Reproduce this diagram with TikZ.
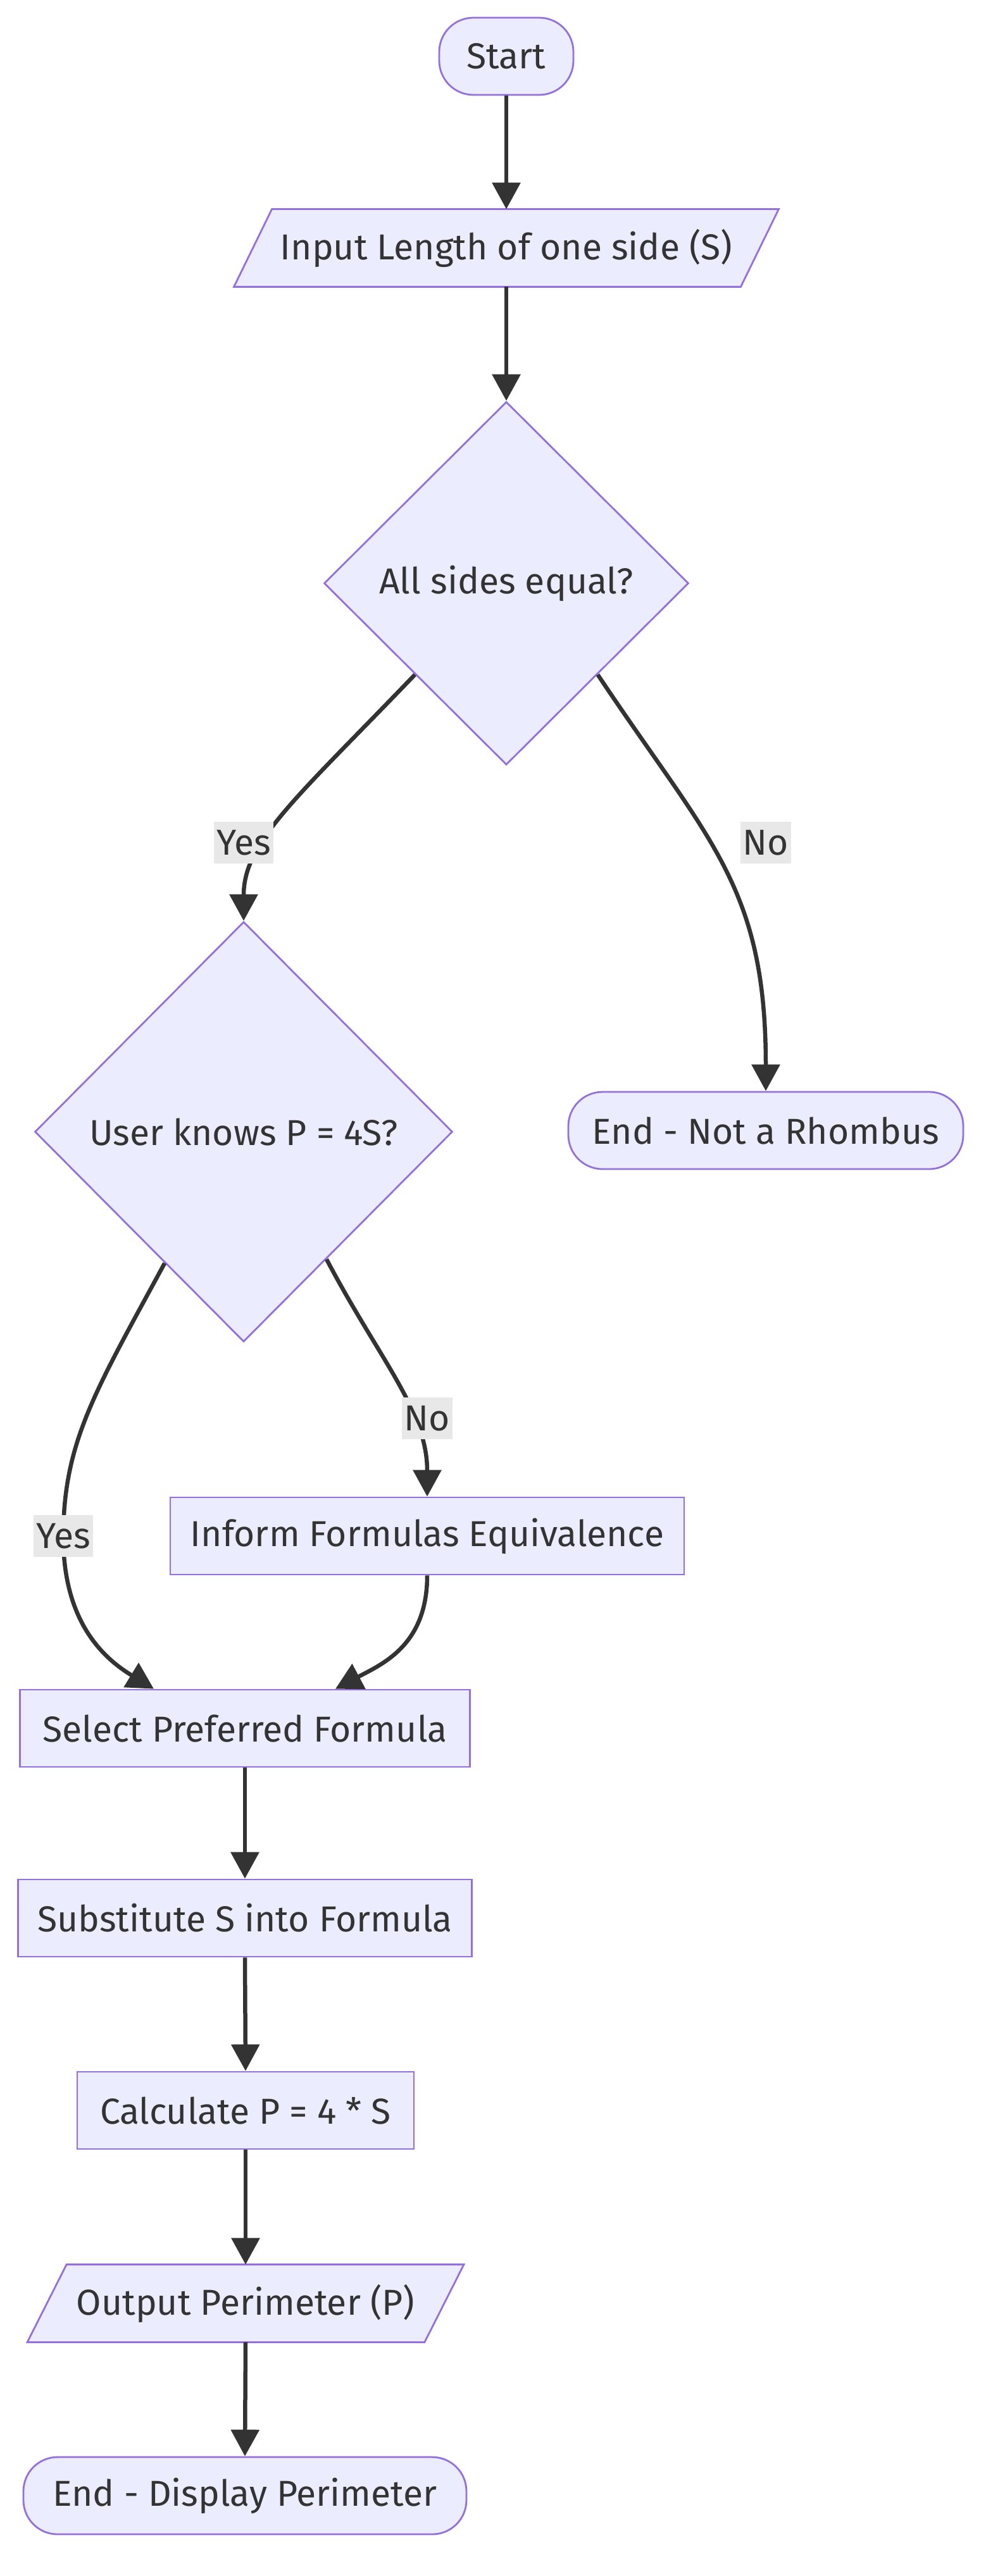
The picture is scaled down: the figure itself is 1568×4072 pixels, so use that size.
\documentclass[tikz,border=0pt]{standalone}
\usepackage{fontspec}
\setmainfont{Fira Sans}
\usetikzlibrary{shapes.geometric,arrows.meta,calc,backgrounds}
\definecolor{nfill}{HTML}{ECECFF}
\definecolor{nline}{HTML}{9370DB}
\definecolor{ink}{HTML}{333333}
\definecolor{lblbg}{HTML}{E8E8E8}
\begin{document}
\begin{tikzpicture}[x=0.5pt,y=-0.5pt,
  font=\fontsize{28.5}{34}\selectfont, text=ink,
  box/.style={draw=nline, fill=nfill, line width=1.4pt, inner sep=0pt, minimum height=61pt, align=center},
  term/.style={box, rounded corners=27pt},
  dec/.style={box, diamond, aspect=1},
  io/.style={inner sep=0pt, minimum height=61pt, align=center},
  iobox/.style={draw=nline, fill=nfill, line width=1.4pt},
  flow/.style={draw=ink, line width=3.25pt, -{Triangle[length=21pt,width=22pt]}},
  lbl/.style={fill=lblbg, inner xsep=2pt, inner ysep=0pt, minimum height=33pt}]
\useasboundingbox (0,0) rectangle (1568,4072);

\node[term, minimum width=106pt] (start) at (800,89) {Start};
\node[io, minimum width=400pt] (input) at (800,392) {Input Length of one side (S)};
\node[dec, minimum width=288pt, minimum height=287pt] (d1) at (800,922) {All sides equal?};
\node[dec, minimum width=330pt, minimum height=332pt] (d2) at (385,1789) {User knows P = 4S?};
\node[term, minimum width=312pt] (endnot) at (1210,1787) {End - Not a Rhombus};
\node[box, minimum width=406pt] (inform) at (675,2428) {Inform Formulas Equivalence};
\node[box, minimum width=355.5pt] (select) at (387,2732) {Select Preferred Formula};
\node[box, minimum width=358.5pt] (subst) at (387,3032) {Substitute S into Formula};
\node[box, minimum width=266pt] (calc) at (388,3336) {Calculate P = 4 * S};
\node[io, minimum width=313.5pt] (output) at (388,3641) {Output Perimeter (P)};
\node[term, minimum width=350pt] (enddisp) at (387,3945) {End - Display Perimeter};

\begin{scope}[on background layer]
\path[iobox] ($(input.north west)+(30,0)$) -- ($(input.north east)+(30,0)$)
  -- ($(input.south east)+(-30,0)$) -- ($(input.south west)+(-30,0)$) -- cycle;
\path[iobox] ($(output.north west)+(31,0)$) -- ($(output.north east)+(31,0)$)
  -- ($(output.south east)+(-31,0)$) -- ($(output.south west)+(-31,0)$) -- cycle;
\end{scope}

\draw[flow] (start.south) -- (input.north);
\draw[flow] (input.south) -- (d1.north);
\draw[flow] (d1.-135) .. controls (470,1260) and (385,1330) .. (d2.north);
\draw[flow] (d1.-45) .. controls (1120,1330) and (1210,1400) .. (endnot.north);
\draw[flow] (d2.-121) .. controls (150,2200) and (100,2280) .. (100,2430)
  .. controls (100,2570) and (170,2625) .. ($(select.north)+(-144,0)$);
\draw[flow] (d2.-57) .. controls (600,2150) and (675,2230) .. (inform.north);
\draw[flow] (inform.south) .. controls (675,2600) and (605,2630) .. ($(select.north)+(143,0)$);
\draw[flow] (select.south) -- (subst.north);
\draw[flow] (subst.south) -- (calc.north);
\draw[flow] (calc.south) -- (output.north);
\draw[flow] (output.south) -- (enddisp.north);

\node[lbl] (lyes1) at (385,1332) {Yes};
\node[lbl] (lno1) at (1210,1332) {No};
\node[lbl] (lno2) at (675,2242) {No};
\node[lbl] (lyes2) at (100,2428) {Yes};
\end{tikzpicture}
\end{document}
